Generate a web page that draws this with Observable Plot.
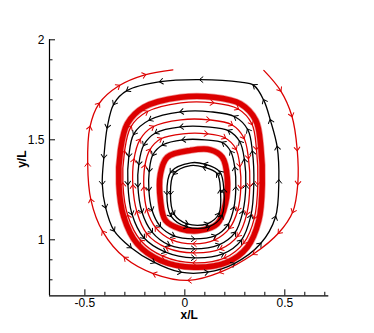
<!DOCTYPE html>
<html><head><meta charset="utf-8">
<script src="https://cdn.jsdelivr.net/npm/d3@7"></script>
<script src="https://cdn.jsdelivr.net/npm/@observablehq/plot@0.6"></script>
<style>body{margin:0;background:#fff}#chart{width:374px;height:333px}</style>
</head><body><div id="chart"></div>
<script>
// axes
const xDomain = [-0.677, 0.72];
const yDomain = [0.72, 2.0];
const xMajor = [-0.5, 0, 0.5];
const xMinor = [-0.4, -0.3, -0.2, -0.1, 0.1, 0.2, 0.3, 0.4, 0.6, 0.7];
const yMajor = [1, 1.5, 2];
const yMinor = [0.8, 0.9, 1.1, 1.2, 1.3, 1.4, 1.6, 1.7, 1.8, 1.9];
const xLabel = "x/L";
const yLabel = "y/L";

// streamlines (x/L, y/L), in flow order
const outerRed = [[0.395,1.847],[0.478,1.747],[0.535,1.62],[0.562,1.45],[0.565,1.28],[0.54,1.14],[0.47,1.035],[0.345,0.93],[0.178,0.838],[0.02,0.797],[-0.155,0.83],[-0.3,0.91],[-0.41,1.04],[-0.47,1.2],[-0.486,1.38],[-0.475,1.563],[-0.43,1.68],[-0.33,1.77],[-0.2,1.825],[-0.06,1.85]];
const outerBlack = [[0.345,1.772],[0.278,1.788],[0.078,1.801],[-0.122,1.791],[-0.288,1.747],[-0.355,1.68],[-0.388,1.563],[-0.405,1.413],[-0.413,1.28],[-0.397,1.163],[-0.355,1.047],[-0.272,0.963],[-0.155,0.888],[-0.022,0.838],[0.112,0.838],[0.245,0.88],[0.378,0.98],[0.453,1.113],[0.47,1.296],[0.462,1.463],[0.428,1.597],[0.395,1.697]];
const thickOuter = [[-0.205,1.663],[-0.022,1.713],[0.145,1.713],[0.278,1.68],[0.355,1.597],[0.38,1.463],[0.387,1.28],[0.37,1.097],[0.312,0.963],[0.212,0.888],[0.045,0.863],[-0.122,0.897],[-0.238,0.98],[-0.305,1.113],[-0.33,1.28],[-0.322,1.447],[-0.288,1.58]];
const redA = [[-0.19,1.64],[-0.02,1.685],[0.14,1.685],[0.265,1.655],[0.335,1.58],[0.358,1.455],[0.365,1.28],[0.348,1.11],[0.295,0.985],[0.2,0.91],[0.045,0.885],[-0.11,0.918],[-0.22,0.995],[-0.285,1.12],[-0.31,1.28],[-0.302,1.44],[-0.27,1.565]];
const blackB = [[0.25,1.615],[0.13,1.64],[-0.02,1.64],[-0.175,1.6],[-0.255,1.53],[-0.28,1.42],[-0.285,1.28],[-0.265,1.13],[-0.205,1.01],[-0.1,0.94],[0.045,0.91],[0.19,0.93],[0.28,0.995],[0.33,1.12],[0.345,1.28],[0.338,1.44],[0.315,1.55]];
const redC = [[-0.16,1.565],[-0.02,1.6],[0.12,1.6],[0.235,1.575],[0.295,1.51],[0.318,1.41],[0.325,1.27],[0.31,1.13],[0.265,1.02],[0.18,0.955],[0.045,0.935],[-0.09,0.96],[-0.19,1.03],[-0.24,1.14],[-0.26,1.27],[-0.255,1.4],[-0.225,1.5]];
const blackD = [[0.22,1.545],[0.11,1.565],[-0.02,1.565],[-0.145,1.535],[-0.205,1.475],[-0.23,1.38],[-0.235,1.27],[-0.215,1.14],[-0.165,1.04],[-0.08,0.975],[0.045,0.955],[0.17,0.975],[0.25,1.035],[0.29,1.14],[0.305,1.27],[0.298,1.4],[0.275,1.49]];
const redE = [[-0.12,1.505],[-0.01,1.53],[0.11,1.53],[0.2,1.51],[0.255,1.455],[0.275,1.37],[0.28,1.26],[0.265,1.15],[0.225,1.06],[0.15,1.0],[0.045,0.98],[-0.065,1.0],[-0.145,1.06],[-0.19,1.15],[-0.205,1.26],[-0.2,1.37],[-0.175,1.45]];
const blackF = [[0.19,1.485],[0.1,1.5],[-0.01,1.5],[-0.11,1.475],[-0.16,1.425],[-0.178,1.345],[-0.18,1.25],[-0.165,1.15],[-0.125,1.07],[-0.055,1.02],[0.045,1.005],[0.15,1.02],[0.215,1.075],[0.245,1.16],[0.255,1.26],[0.25,1.36],[0.23,1.44]];
const thickInner = [[-0.088,1.413],[0.028,1.447],[0.128,1.45],[0.187,1.413],[0.212,1.313],[0.203,1.18],[0.162,1.08],[0.078,1.047],[-0.022,1.055],[-0.097,1.097],[-0.122,1.197],[-0.122,1.33]];
const innerBlack1 = [[0.1,1.378],[0.03,1.385],[-0.07,1.34],[-0.09,1.23],[-0.07,1.12],[0.01,1.065],[0.12,1.065],[0.185,1.12],[0.195,1.25],[0.175,1.34]];
const innerBlack2 = [[0.095,1.363],[0.028,1.371],[-0.055,1.33],[-0.072,1.23],[-0.055,1.13],[0.012,1.08],[0.112,1.08],[0.17,1.13],[0.178,1.246],[0.162,1.33]];

const RED = "#dc0000";
const BLACK = "#000000";
const marginLeft = 49, marginRight = 45.7, marginTop = 39.3, marginBottom = 37.7;
const W = 374, H = 333;
const innerW = W - marginLeft - marginRight, innerH = H - marginTop - marginBottom;

function chevron(color) {
  const ns = "http://www.w3.org/2000/svg";
  const m = document.createElementNS(ns, "marker");
  m.setAttribute("viewBox", "-5 -5 10 10");
  m.setAttribute("markerWidth", "7");
  m.setAttribute("markerHeight", "7");
  m.setAttribute("markerUnits", "userSpaceOnUse");
  m.setAttribute("orient", "auto");
  m.setAttribute("overflow", "visible");
  const p = document.createElementNS(ns, "path");
  p.setAttribute("d", "M-3.5,-4L1.5,0L-3.5,4");
  p.setAttribute("fill", "none");
  p.setAttribute("stroke", color);
  p.setAttribute("stroke-width", "1.4");
  m.appendChild(p);
  return m;
}

const px = d => d[0], py = d => d[1];
const thin = (data, color, closed) => Plot.line(data, {x: px, y: py, stroke: color, strokeWidth: 1.3,
  curve: closed ? "catmull-rom-closed" : "catmull-rom", markerMid: chevron});
const thick = (data) => [
  Plot.line(data, {x: px, y: py, stroke: RED, strokeWidth: 7, strokeOpacity: 0.4, curve: "catmull-rom-closed"}),
  Plot.line(data, {x: px, y: py, stroke: RED, strokeWidth: 5.5, curve: "catmull-rom-closed"})
];

const chart = Plot.plot({
  width: W, height: H,
  marginLeft, marginRight, marginTop, marginBottom,
  x: {domain: xDomain},
  y: {domain: yDomain},
  style: {fontFamily: "'Liberation Sans', Arial, sans-serif", fontSize: "12px", background: "white", color: "black", overflow: "visible"},
  marks: [
    ...thick(thickOuter),
    ...thick(thickInner),
    thin(redA, RED, true),
    thin(blackB, BLACK, true),
    thin(redC, RED, true),
    thin(blackD, BLACK, true),
    thin(redE, RED, true),
    thin(blackF, BLACK, true),
    thin(innerBlack1, BLACK, true),
    thin(innerBlack2, BLACK, true),
    thin(outerBlack, BLACK, true),
    thin(outerRed, RED, false),
    // axis lines
    Plot.ruleX([xDomain[0]], {stroke: "black", strokeWidth: 1.2}),
    Plot.ruleY([yDomain[0]], {stroke: "black", strokeWidth: 1.2}),
    // inward ticks
    Plot.tickX(xMajor, {x: d => d, stroke: "black", insetTop: innerH - 6}),
    Plot.tickX(xMinor, {x: d => d, stroke: "black", insetTop: innerH - 3.5}),
    Plot.tickY(yMajor, {y: d => d, stroke: "black", insetRight: innerW - 6}),
    Plot.tickY(yMinor, {y: d => d, stroke: "black", insetRight: innerW - 3.5}),
    // tick labels
    Plot.axisX({ticks: xMajor, tickSize: 0, tickPadding: 3, tickFormat: d => String(d), fontSize: 12, label: null}),
    Plot.axisY({ticks: yMajor, tickSize: 0, tickPadding: 5, tickFormat: d => String(d), fontSize: 12, label: null}),
    // axis titles
    Plot.text([xLabel], {text: d => d, frameAnchor: "bottom", dy: 23, lineAnchor: "bottom", fontWeight: "bold", fontSize: 12}),
    Plot.text([yLabel], {text: d => d, frameAnchor: "left", dx: -27.5, rotate: -90, fontWeight: "bold", fontSize: 12})
  ]
});
document.getElementById("chart").appendChild(chart);
</script>
</body></html>
